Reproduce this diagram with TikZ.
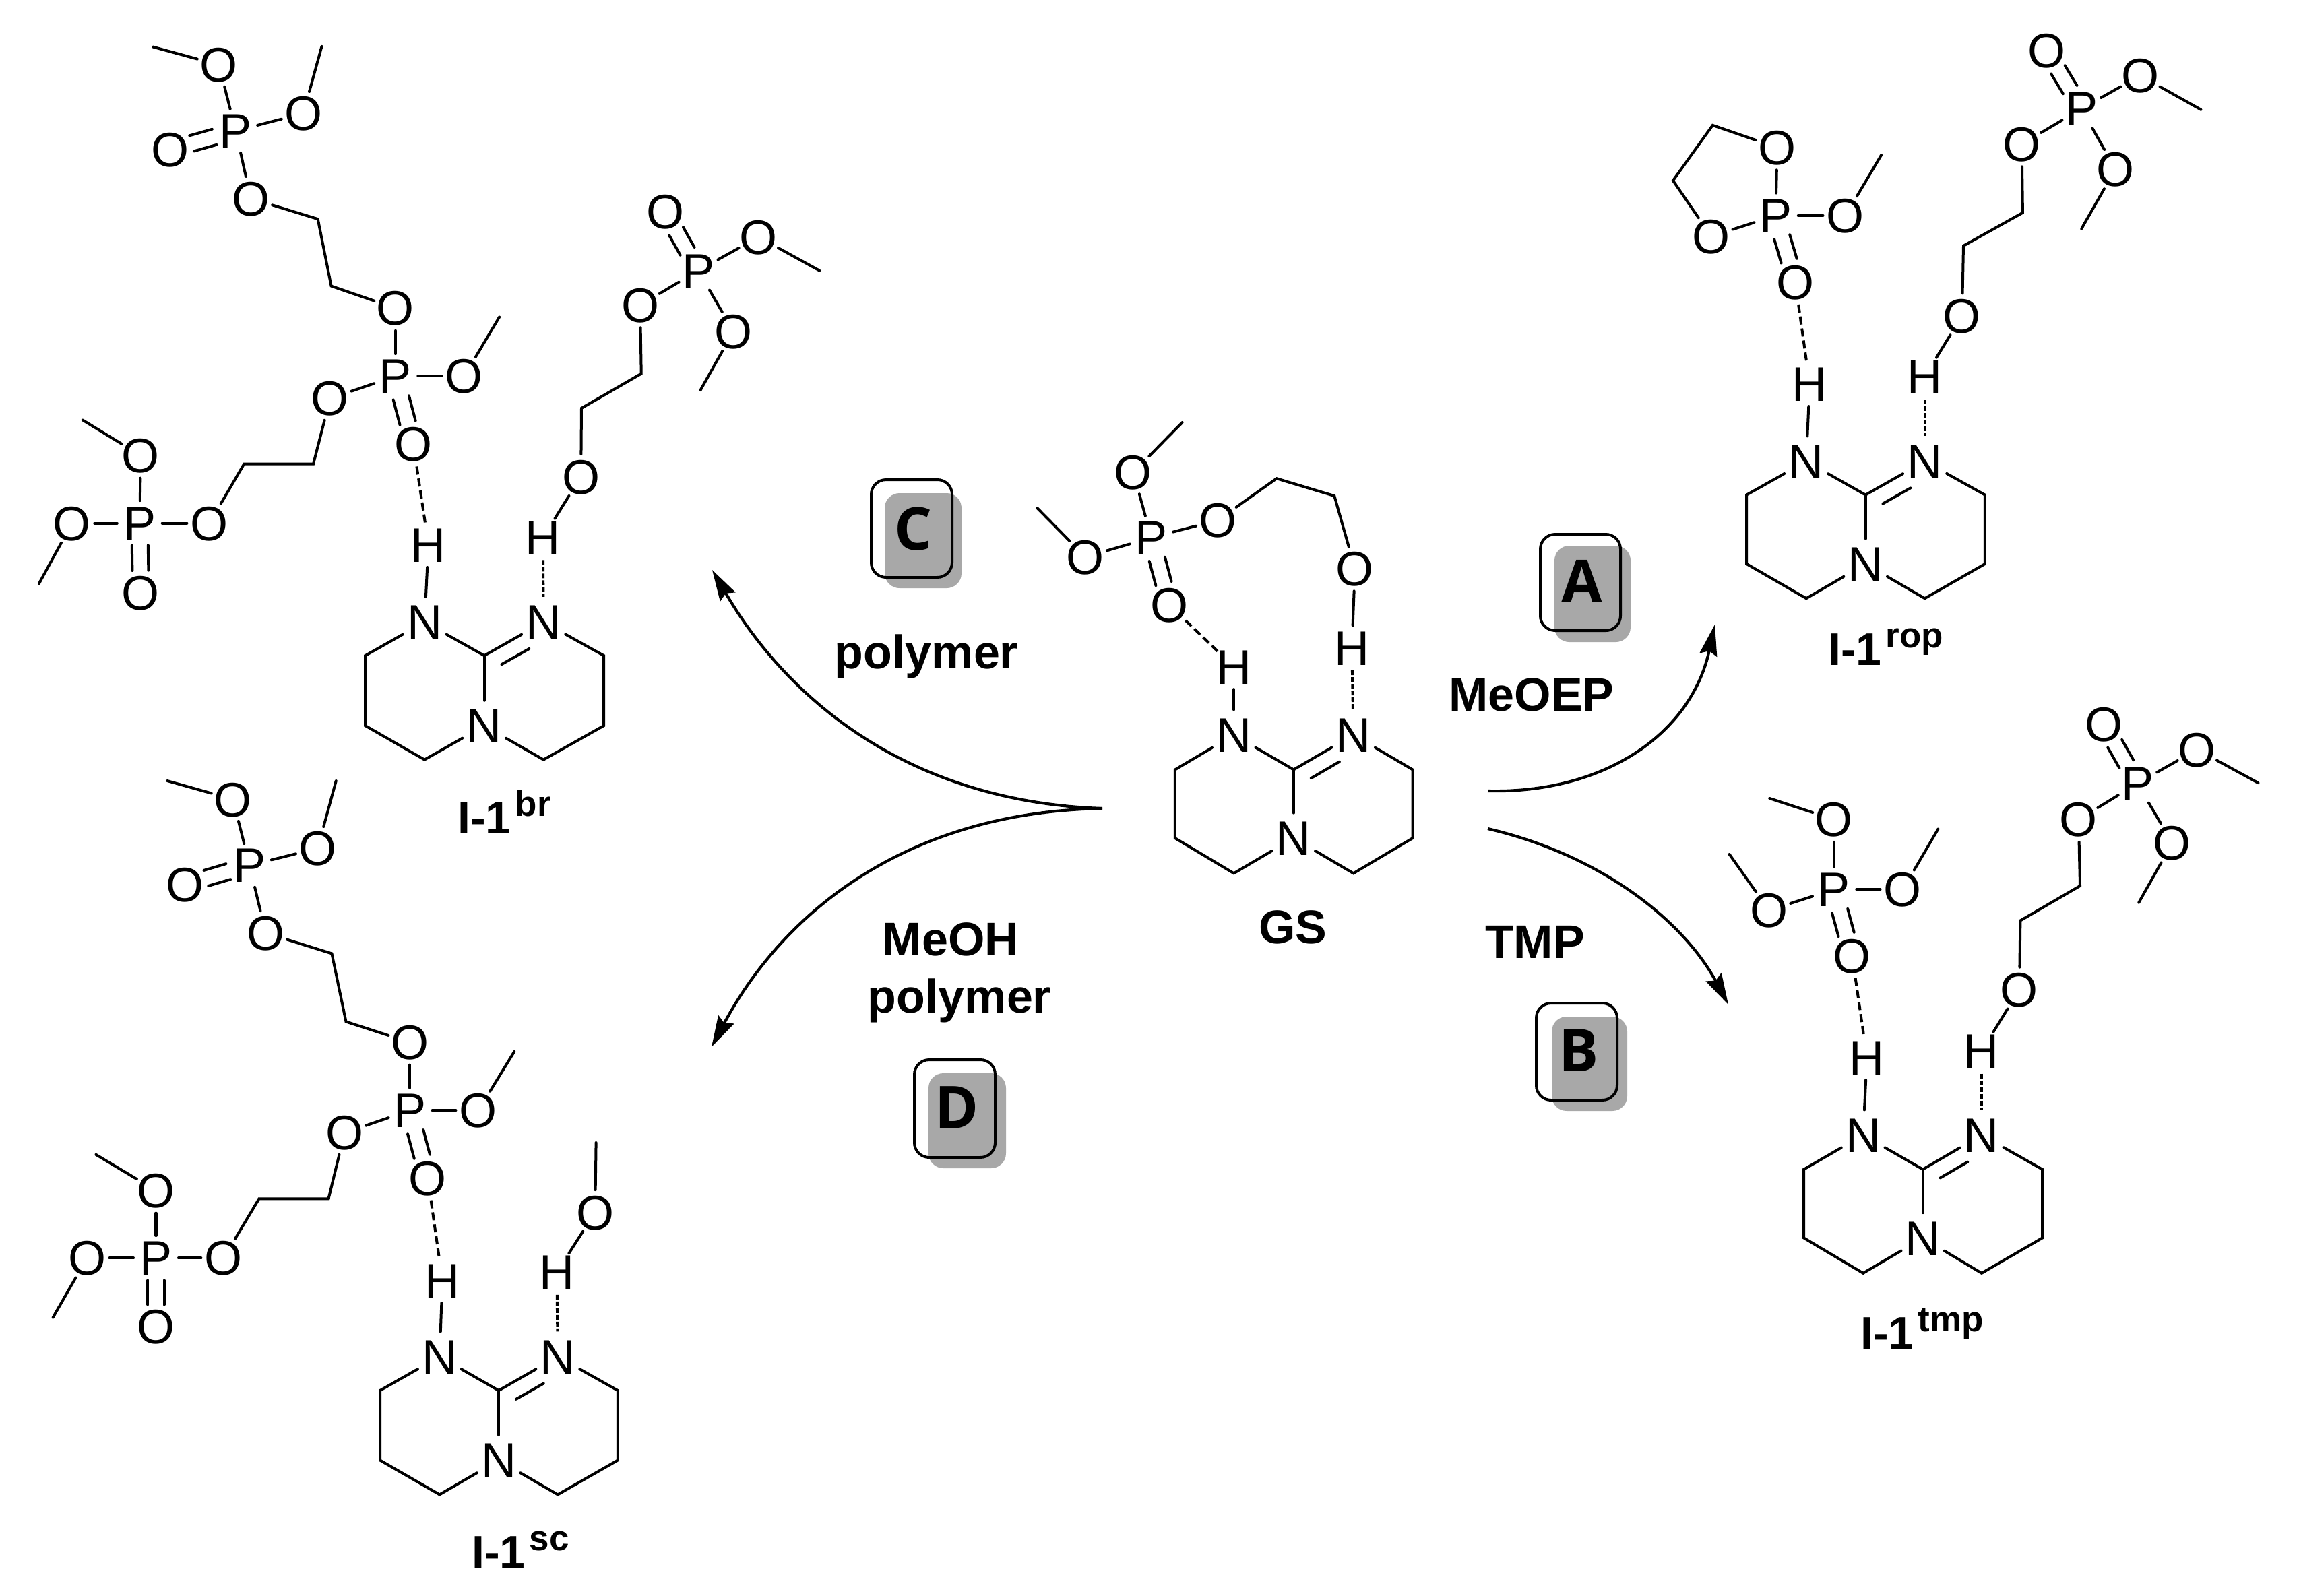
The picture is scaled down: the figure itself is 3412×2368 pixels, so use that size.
\documentclass[tikz,border=0pt]{standalone}
\usepackage{fontspec}
\setmainfont{Liberation Sans}
\newfontfamily\boxfont{Open Sans}
\usetikzlibrary{arrows.meta,calc}
\newcommand\atomsize{\fontsize{36}{36}\selectfont}
\definecolor{shadowgray}{gray}{0.66}
\tikzset{
  atom/.style={circle,inner sep=0pt,minimum size=33pt,font=\atomsize,text height=25.5pt,text depth=0pt},
  natom/.style={atom,minimum size=37pt},
  bond/.style={line width=2pt,line cap=round,line join=miter,black},
  hbond/.style={line width=2pt,dash pattern=on 6pt off 3pt,black},
  hbondb/.style={line width=2pt,dash pattern=on 3.5pt off 1.5pt,black},
  rxn/.style={line width=2.1pt,black,-{Stealth[length=23pt,width=13pt,inset=3pt]}},
  lbl/.style={font=\fontsize{35}{35}\selectfont\bfseries,inner sep=0pt,anchor=base},
  labelI/.style={font=\fontsize{34}{34}\selectfont\bfseries,inner sep=0pt,anchor=base west},
  tagbox/.style={draw=black,line width=2pt,rounded corners=11pt},
  tagshadow/.style={fill=shadowgray,rounded corners=11pt},
  tagletter/.style={font=\fontsize{44}{44}\selectfont\boxfont\bfseries,inner sep=0pt},
}
\newcommand\atm[4][atom]{\node[#1] (#2) at (#3) {\makebox[0pt]{#4}};}
\newcommand\bnd[2]{\draw[bond] (#1) -- (#2);}
\newcommand\hba[2]{\draw[hbond] (#1) -- (#2);}
\newcommand\hbb[2]{\draw[hbondb] (#1) -- (#2);}
\newcommand\dbl[2]{%
  \draw[bond,shorten <=16.5pt,shorten >=16.5pt] ($(#1)!6pt!90:(#2)$) -- ($(#2)!6pt!-90:(#1)$);
  \draw[bond,shorten <=16.5pt,shorten >=16.5pt] ($(#1)!6pt!-90:(#2)$) -- ($(#2)!6pt!90:(#1)$);}
% \core{prefix}{xL}{xN1}{xC}{xN2}{xR}{yN}{yC}{yD}  then bottom y in \yB
\newcommand\core[9]{%
  \atm[natom]{#1N1}{#3,#7}{N}
  \atm[natom]{#1N2}{#5,#7}{N}
  \atm[natom]{#1N3}{#4,#9}{N}
  \coordinate (#1C) at (#4,#8);
  \coordinate (#1L1) at (#2,#8);
  \coordinate (#1L2) at (#2,#9);
  \coordinate (#1L3) at (#3,\yB);
  \coordinate (#1R1) at (#6,#8);
  \coordinate (#1R2) at (#6,#9);
  \coordinate (#1R3) at (#5,\yB);
  \draw[bond] (#1N1) -- (#1L1) -- (#1L2) -- (#1L3) -- (#1N3);
  \draw[bond] (#1N2) -- (#1R1) -- (#1R2) -- (#1R3) -- (#1N3);
  \bnd{#1N1}{#1C}
  \bnd{#1C}{#1N3}
  \bnd{#1C}{#1N2}
  \draw[bond,shorten <=8pt,shorten >=19pt] ($(#1C)!12pt!-90:(#1N2)$) -- ($(#1N2)!12pt!90:(#1C)$);
}
\begin{document}
\begin{tikzpicture}[x=.5pt,y=-.5pt]
\useasboundingbox (0,0) rectangle (3412,2368);

% ---------- I-1 br ----------
\begin{scope}[x=.4145pt,y=-.3825pt]
\def\yB{1474}
\core{b}{654}{760}{867}{973}{1081}{1207}{1272}{1408}
\atm{bH1}{767,1057}{H}
\atm{bH2}{972,1043}{H}
\atm{bO1}{392,126}{O}
\coordinate (bM1) at (274,91);
\atm{bO2}{543,220}{O}
\coordinate (bM2) at (576,90);
\atm{bP1}{422,254}{P}
\atm{bOd1}{305,290}{O}
\atm{bO3}{449,385}{O}
\coordinate (bC1) at (569,425);
\coordinate (bC2) at (593,555);
\atm{bO4}{708,598}{O}
\atm{bP2}{708,730}{P}
\atm{bO5}{831,730}{O}
\coordinate (bM3) at (894,615);
\atm{bO6}{591,773}{O}
\atm{bOd2}{740,862}{O}
\coordinate (bC3) at (561,900);
\coordinate (bC4) at (437,900);
\atm{bO7}{375,1015}{O}
\atm{bP3}{250,1015}{P}
\atm{bO8}{252,884}{O}
\coordinate (bM4) at (148,815);
\atm{bO9}{129,1015}{O}
\coordinate (bM5) at (70,1132);
\atm{bOd3}{252,1150}{O}
\atm{bO10}{1040,925}{O}
\coordinate (bC5) at (1041,792);
\coordinate (bC6) at (1148,725);
\atm{bO11}{1146,592}{O}
\atm{bP4}{1250,525}{P}
\atm{bOd4}{1191,411}{O}
\atm{bO12}{1358,460}{O}
\coordinate (bM6) at (1467,525);
\atm{bO13}{1313,643}{O}
\coordinate (bM7) at (1254,757);
\bnd{bO1}{bM1}\bnd{bO1}{bP1}\bnd{bO2}{bM2}\bnd{bO2}{bP1}\dbl{bP1}{bOd1}\bnd{bP1}{bO3}
\draw[bond] (bO3) -- (bC1) -- (bC2) -- (bO4);
\bnd{bO4}{bP2}\bnd{bP2}{bO5}\bnd{bO5}{bM3}\bnd{bP2}{bO6}\dbl{bP2}{bOd2}
\draw[bond] (bO6) -- (bC3) -- (bC4) -- (bO7);
\bnd{bO7}{bP3}\bnd{bP3}{bO8}\bnd{bO8}{bM4}\bnd{bP3}{bO9}\bnd{bO9}{bM5}\dbl{bP3}{bOd3}
\hba{bOd2}{bH1}\bnd{bH1}{bN1}\hbb{bH2}{bN2}\bnd{bH2}{bO10}
\draw[bond] (bO10) -- (bC5) -- (bC6) -- (bO11);
\bnd{bO11}{bP4}\dbl{bP4}{bOd4}\bnd{bP4}{bO12}\bnd{bO12}{bM6}\bnd{bP4}{bO13}\bnd{bO13}{bM7}
\end{scope}

% ---------- GS ----------
\begin{scope}[shift={(600pt,-300pt)},x=.3825pt,y=-.287pt]
\def\yB{1213}
\core{g}{711}{825}{941}{1057}{1172}{855}{945}{1122}
\atm{gH1}{825,679}{H}
\atm{gH2}{1054,630}{H}
\coordinate (gM1) at (725,47);
\atm{gO1}{630,176}{O}
\coordinate (gM2) at (444,269);
\atm{gO2}{537,395}{O}
\atm{gP}{665,345}{P}
\atm{gO3}{794,300}{O}
\coordinate (gC1) at (908,192);
\coordinate (gC2) at (1020,237);
\atm{gO4}{1060,425}{O}
\atm{gOd}{700,519}{O}
\bnd{gO1}{gM1}\bnd{gO1}{gP}\bnd{gO2}{gM2}\bnd{gO2}{gP}\bnd{gP}{gO3}\dbl{gP}{gOd}
\draw[bond] (gO3) -- (gC1) -- (gC2) -- (gO4);
\bnd{gO4}{gH2}\hbb{gH2}{gN2}\hba{gOd}{gH1}\bnd{gH1}{gN1}
\end{scope}

% ---------- I-1 rop ----------
\begin{scope}[shift={(1150pt,0pt)},x=.3545pt,y=-.3508pt]
\def\yB{1266}
\core{r}{412}{537}{661}{785}{911}{976}{1047}{1193}
\atm{rH1}{544,812}{H}
\atm{rH2}{785,797}{H}
\atm{rO1}{476,312}{O}
\coordinate (rC1) at (341,265);
\coordinate (rC2) at (258,382);
\atm{rO2}{338,500}{O}
\atm{rP}{473,456}{P}
\atm{rO3}{619,456}{O}
\coordinate (rM1) at (694,328);
\atm{rOd}{514,597}{O}
\atm{rO4}{863,668}{O}
\coordinate (rC3) at (866,520);
\coordinate (rC4) at (990,450);
\atm{rO5}{988,305}{O}
\atm{rP2}{1113,230}{P}
\atm{rOd2}{1040,107}{O}
\atm{rO6}{1236,160}{O}
\coordinate (rM2) at (1363,232);
\atm{rO7}{1184,358}{O}
\coordinate (rM3) at (1113,484);
\draw[bond] (rO1) -- (rC1) -- (rC2) -- (rO2);
\bnd{rO1}{rP}\bnd{rO2}{rP}\bnd{rP}{rO3}\bnd{rO3}{rM1}\dbl{rP}{rOd}
\hba{rOd}{rH1}\bnd{rH1}{rN1}\hbb{rH2}{rN2}\bnd{rH2}{rO4}
\draw[bond] (rO4) -- (rC3) -- (rC4) -- (rO5);
\bnd{rO5}{rP2}\dbl{rP2}{rOd2}\bnd{rP2}{rO6}\bnd{rO6}{rM2}\bnd{rP2}{rO7}\bnd{rO7}{rM3}
\end{scope}

% ---------- I-1 tmp ----------
\begin{scope}[shift={(1150pt,-500pt)},x=.3545pt,y=-.335pt]
\def\yB{1328}
\core{t}{532}{656}{781}{904}{1031}{1022}{1098}{1250}
\atm{tH1}{664,850}{H}
\atm{tH2}{904,836}{H}
\atm{tO1}{595,323}{O}
\coordinate (tM1) at (460,276);
\atm{tP}{595,478}{P}
\atm{tO2}{739,478}{O}
\coordinate (tM2) at (813,344);
\atm{tO3}{459,524}{O}
\coordinate (tM3) at (376,400);
\atm{tOd}{633,625}{O}
\atm{tO4}{983,700}{O}
\coordinate (tC1) at (985,547);
\coordinate (tC2) at (1110,470);
\atm{tO5}{1107,323}{O}
\atm{tP2}{1230,243}{P}
\atm{tOd2}{1160,112}{O}
\atm{tO6}{1355,168}{O}
\coordinate (tM4) at (1483,242);
\atm{tO7}{1303,375}{O}
\coordinate (tM5) at (1233,507);
\bnd{tO1}{tM1}\bnd{tO1}{tP}\bnd{tP}{tO2}\bnd{tO2}{tM2}\bnd{tP}{tO3}\bnd{tO3}{tM3}\dbl{tP}{tOd}
\hba{tOd}{tH1}\bnd{tH1}{tN1}\hbb{tH2}{tN2}\bnd{tH2}{tO4}
\draw[bond] (tO4) -- (tC1) -- (tC2) -- (tO5);
\bnd{tO5}{tP2}\dbl{tP2}{tOd2}\bnd{tP2}{tO6}\bnd{tO6}{tM4}\bnd{tP2}{tO7}\bnd{tO7}{tM5}
\end{scope}

% ---------- I-1 sc ----------
\begin{scope}[shift={(0pt,-550pt)},x=.35075pt,y=-.40435pt]
\def\yB{1383}
\core{s}{804}{930}{1055}{1180}{1307}{1130}{1192}{1320}
\atm{sH1}{936,990}{H}
\atm{sH2}{1178,975}{H}
\atm{sO1}{493,107}{O}
\coordinate (sM1) at (354,73);
\atm{sO2}{672,197}{O}
\coordinate (sM2) at (711,73);
\atm{sP1}{528,228}{P}
\atm{sOd1}{391,263}{O}
\atm{sO3}{562,352}{O}
\coordinate (sC1) at (702,390);
\coordinate (sC2) at (732,515);
\atm{sO4}{867,553}{O}
\atm{sP2}{867,678}{P}
\atm{sO5}{1012,678}{O}
\coordinate (sM3) at (1088,570);
\atm{sO6}{729,719}{O}
\atm{sOd2}{905,802}{O}
\coordinate (sC3) at (695,840);
\coordinate (sC4) at (548,840);
\atm{sO7}{473,949}{O}
\atm{sP3}{330,949}{P}
\atm{sO8}{330,825}{O}
\coordinate (sM4) at (203,759);
\atm{sO9}{184,949}{O}
\coordinate (sM5) at (112,1058);
\atm{sOd3}{330,1075}{O}
\atm{sO10}{1259,865}{O}
\coordinate (sM6) at (1261,737);
\bnd{sO1}{sM1}\bnd{sO1}{sP1}\bnd{sO2}{sM2}\bnd{sO2}{sP1}\dbl{sP1}{sOd1}\bnd{sP1}{sO3}
\draw[bond] (sO3) -- (sC1) -- (sC2) -- (sO4);
\bnd{sO4}{sP2}\bnd{sP2}{sO5}\bnd{sO5}{sM3}\bnd{sP2}{sO6}\dbl{sP2}{sOd2}
\draw[bond] (sO6) -- (sC3) -- (sC4) -- (sO7);
\bnd{sO7}{sP3}\bnd{sP3}{sO8}\bnd{sO8}{sM4}\bnd{sP3}{sO9}\bnd{sO9}{sM5}\dbl{sP3}{sOd3}
\hba{sOd2}{sH1}\bnd{sH1}{sN1}\hbb{sH2}{sN2}\bnd{sH2}{sO10}\bnd{sO10}{sM6}
\end{scope}

% ---------- compound labels ----------
\newcommand\supr[1]{\hspace{3pt}\raisebox{13pt}{\fontsize{26.5}{26.5}\selectfont #1}}
\node[labelI] (lbr) at (679,1237) {I-1\supr{br}};
\node[labelI] (lsc) at (700,2327) {I-1\supr{sc}};
\node[labelI] (lrop) at (2713,987) {I-1\supr{rop}};
\node[labelI] (ltmp) at (2761,2002) {I-1\supr{tmp}};
\node[lbl] (lgs) at (1919,1400) {GS};
\node[lbl] (lpoly) at (1375,992) {polymer};
\node[lbl] (lmeoep) at (2273,1055) {MeOEP};
\node[lbl] (lmeoh) at (1411,1418) {MeOH};
\node[lbl] (lpoly2) at (1424,1503) {polymer};
\node[lbl] (ltmpr) at (2278,1422) {TMP};

% ---------- tags ----------
\fill[tagshadow] (1313,732) rectangle (1427,873);
\fill[tagshadow] (2307,810) rectangle (2420,953);
\fill[tagshadow] (2303,1509) rectangle (2415,1649);
\fill[tagshadow] (1378,1593) rectangle (1493,1734);
\draw[tagbox] (1293,712) rectangle (1413,857);
\draw[tagbox] (2286,793) rectangle (2405,936);
\draw[tagbox] (2280,1489) rectangle (2400,1633);
\draw[tagbox] (1357,1573) rectangle (1477,1718);
\node[tagletter] (tagC) at (1356,785) {C};
\node[tagletter] (tagA) at (2348,863) {A};
\node[tagletter] (tagB) at (2343,1559) {B};
\node[tagletter] (tagD) at (1420,1644) {D};

% ---------- arrows ----------
\coordinate (jl) at (1636,1200);
\coordinate (tipC) at (1057,846);
\coordinate (tipD) at (1056,1554);
\coordinate (sA) at (2208,1174);
\coordinate (tipA) at (2545,927);
\coordinate (sB) at (2208,1230);
\coordinate (tipB) at (2565,1491);
\draw[rxn] (jl) .. controls (1350,1190) and (1170,1040) .. (tipC);
\draw[rxn] (jl) .. controls (1350,1205) and (1165,1350) .. (tipD);
\draw[rxn] (sA) .. controls (2380,1178) and (2510,1090) .. (tipA);
\draw[rxn] (sB) .. controls (2380,1270) and (2500,1370) .. (tipB);
\end{tikzpicture}
\end{document}
